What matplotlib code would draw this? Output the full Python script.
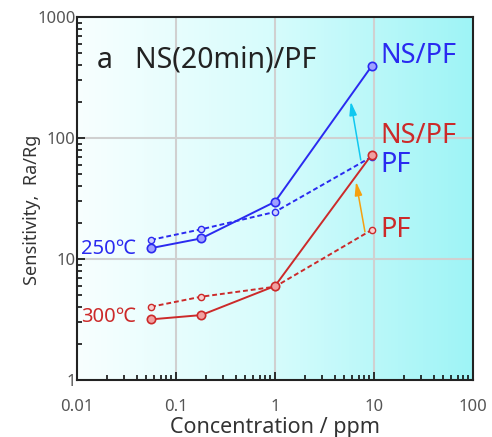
import numpy as np
import matplotlib
matplotlib.use("Agg")
import matplotlib.pyplot as plt
from matplotlib.colors import LinearSegmentedColormap

plt.rcParams['font.family'] = ['Noto Sans', 'DejaVu Sans']

# Data
conc = [0.056, 0.18, 1.0, 9.5]
s250_nspf = [12.3, 14.8, 29.7, 394]
s250_pf = [14.4, 17.6, 24.5, 70]
s300_nspf = [3.17, 3.44, 5.98, 73]
s300_pf = [4.03, 4.88, 5.9, 17.4]

xticks = [0.01, 0.1, 1, 10, 100]
xticklabels = ['0.01', '0.1', '1', '10', '100']
yticks = [1, 10, 100, 1000]
yticklabels = ['1', '10', '100', '1000']

blue = '#2a2af0'
red = '#cc2a2a'

fig = plt.figure(figsize=(4.92, 4.37), dpi=100)
ax = fig.add_axes([77/492, 1-380/437, 396/492, 363/437])
ax.set_xscale('log')
ax.set_yscale('log')
ax.set_xlim(0.01, 100)
ax.set_ylim(1, 1000)

# gradient background
cmap = LinearSegmentedColormap.from_list('bg', ['#f8ffff', '#d6fcfc', '#9ef4f6'])
grad = np.linspace(0, 1, 256).reshape(1, -1)
ax.imshow(grad, extent=[0, 1, 0, 1], transform=ax.transAxes, cmap=cmap,
          aspect='auto', zorder=0)

for v in [0.1, 1, 10]:
    ax.axvline(v, color='#d0d0d0', lw=1.5, zorder=1)
for v in [10, 100]:
    ax.axhline(v, color='#d0d0d0', lw=1.5, zorder=1)

# lines
ax.plot(conc, s250_pf, ls=(0, (2.5, 1.5)), color=blue, lw=1.4, marker='o', ms=4.5,
        mfc='#d0d0ff', mec=blue, mew=1.0, zorder=3)
ax.plot(conc, s300_pf, ls=(0, (2.5, 1.5)), color=red, lw=1.4, marker='o', ms=4.5,
        mfc='#f8d0d0', mec=red, mew=1.0, zorder=3)
ax.plot(conc, s250_nspf, ls='-', color=blue, lw=1.4, marker='o', ms=6,
        mfc='#a0a0ff', mec=blue, mew=1.2, zorder=4)
ax.plot(conc, s300_nspf, ls='-', color=red, lw=1.4, marker='o', ms=6,
        mfc='#f0a0a0', mec=red, mew=1.2, zorder=4)

# arrows
ax.annotate('', xy=(5.82, 200), xytext=(7.35, 65.8),
            arrowprops=dict(arrowstyle='-|>,head_length=0.8,head_width=0.22',
                            color='#10c8f0', lw=1.1, shrinkA=0, shrinkB=0,
                            mutation_scale=10), zorder=5)
ax.annotate('', xy=(6.58, 43.5), xytext=(8.1, 16.8),
            arrowprops=dict(arrowstyle='-|>,head_length=0.8,head_width=0.22',
                            color='#f5a010', lw=1.1, shrinkA=0, shrinkB=0,
                            mutation_scale=10), zorder=5)

# texts
ax.text(0.0505, 0.862, 'a   NS(20min)/PF', transform=ax.transAxes, fontsize=20.5,
        color='#222222', va='baseline', ha='left')
ax.text(11.5, 417, 'NS/PF', color=blue, fontsize=19.5, va='baseline', ha='left')
ax.text(11.5, 91, 'NS/PF', color=red, fontsize=19.5, va='baseline', ha='left')
ax.text(11.6, 52.6, 'PF', color=blue, fontsize=19.5, va='baseline', ha='left')
ax.text(11.5, 15.3, 'PF', color=red, fontsize=19.5, va='baseline', ha='left')
ax.text(0.0111, 11.1, '250℃', color=blue, fontsize=14.5, va='baseline', ha='left')
ax.text(0.0111, 3.03, '300℃', color=red, fontsize=14.5, va='baseline', ha='left')

# axes styling
ax.set_xticks(xticks)
ax.set_xticklabels(xticklabels)
ax.set_yticks(yticks)
ax.set_yticklabels(yticklabels)
ax.tick_params(which='both', direction='in', top=False, right=False,
               colors='#111111', labelcolor='#555555', labelsize=12)
ax.tick_params(which='major', length=6, width=1.2)
ax.tick_params(axis='x', which='major', pad=13.5)
ax.tick_params(axis='y', which='major', pad=1)
ax.tick_params(which='minor', length=3.5, width=1.2)
for s in ax.spines.values():
    s.set_linewidth(1.5)
    s.set_color('#222222')
    s.set_zorder(6)

ax.set_xlabel('Concentration / ppm', fontsize=15.5, color='#333333')
ax.xaxis.set_label_coords(0.5, -0.1006)
ax.set_ylabel('Sensitivity,  Ra/Rg', fontsize=13, color='#333333')
ax.yaxis.set_label_coords(-0.091, 0.47)

fig.savefig('out.png', dpi=100)
